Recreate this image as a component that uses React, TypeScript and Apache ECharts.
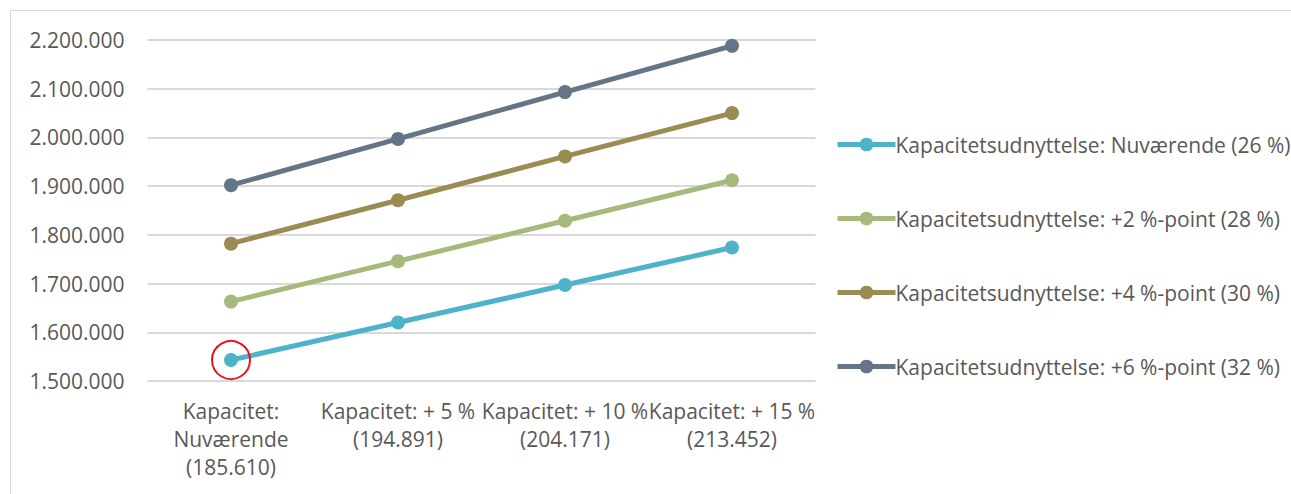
import React, { useEffect, useRef } from "react";
import * as echarts from "echarts";

const categories = [
  "Kapacitet:\nNuværende\n(185.610)",
  "Kapacitet: + 5 %\n(194.891)",
  "Kapacitet: + 10 %\n(204.171)",
  "Kapacitet: + 15 %\n(213.452)",
];

const seriesNames = [
  "Kapacitetsudnyttelse: Nuværende (26 %)",
  "Kapacitetsudnyttelse: +2 %-point (28 %)",
  "Kapacitetsudnyttelse: +4 %-point (30 %)",
  "Kapacitetsudnyttelse: +6 %-point (32 %)",
];

const current = [1543000, 1620000, 1697000, 1774000];
const plus2 = [1663000, 1746000, 1829000, 1912000];
const plus4 = [1782000, 1871000, 1961000, 2050000];
const plus6 = [1902000, 1997000, 2093000, 2188000];

const colors = ["#4EB3C8", "#A7BA7D", "#9A8C52", "#647587"];

const yMin = 1500000;
const yMax = 2200000;
const yStep = 100000;

const FONT = "'Open Sans', Lato, sans-serif";

export default function App() {
  const ref = useRef<HTMLDivElement>(null);
  useEffect(() => {
    if (!ref.current) return;
    const chart = echarts.init(ref.current, undefined, { renderer: "svg" });
    const data = [current, plus2, plus4, plus6];
    const fmt = (v: number) =>
      Math.round(v)
        .toString()
        .replace(/\B(?=(\d{3})+(?!\d))/g, ".");
    chart.setOption({
      animation: false,
      backgroundColor: "#ffffff",
      textStyle: { fontFamily: FONT },
      graphic: [
        {
          type: "rect",
          shape: { x: 10.5, y: 10.5, width: 1300, height: 500 },
          style: { fill: "none", stroke: "#d9d9d9", lineWidth: 1 },
          silent: true,
        },
      ],
      grid: { left: 147.5, right: 475.5, top: 40, bottom: 113, containLabel: false },
      legend: {
        orient: "vertical",
        left: 830,
        top: 129,
        itemWidth: 58,
        itemHeight: 17,
        itemGap: 53,
        data: seriesNames,
        lineStyle: { width: 5 },
        textStyle: { fontFamily: FONT, fontSize: 21, color: "#595959", padding: [0, 0, 0, -5] },
      },
      xAxis: {
        type: "category",
        data: categories,
        boundaryGap: true,
        axisLine: { show: false },
        axisTick: { show: false },
        axisLabel: {
          interval: 0,
          margin: 16,
          fontFamily: FONT,
          fontSize: 21,
          color: "#595959",
          lineHeight: 28,
        },
      },
      yAxis: {
        type: "value",
        min: yMin,
        max: yMax,
        interval: yStep,
        axisLine: { show: false },
        axisTick: { show: false },
        splitLine: { lineStyle: { color: "#d9d9d9", width: 2 } },
        axisLabel: {
          formatter: fmt,
          margin: 23,
          fontFamily: FONT,
          fontSize: 21,
          color: "#595959",
        },
      },
      series: data.map((d, i) => ({
        name: seriesNames[i],
        type: "line",
        data: d,
        symbol: "circle",
        symbolSize: 14,
        showSymbol: true,
        lineStyle: { width: 5, color: colors[i] },
        itemStyle: { color: colors[i] },
        z: 2 + i,
        markPoint:
          i === 0
            ? {
                symbol: "circle",
                symbolSize: 38,
                silent: true,
                label: { show: false },
                itemStyle: { color: "rgba(0,0,0,0)", borderColor: "#E8141C", borderWidth: 2 },
                data: [{ coord: [categories[0], current[0]] }],
              }
            : undefined,
      })),
    });
    return () => chart.dispose();
  }, []);
  return (
    <div
      ref={ref}
      style={{ position: "fixed", left: 0, top: 0, width: 1291, height: 494 }}
    />
  );
}
